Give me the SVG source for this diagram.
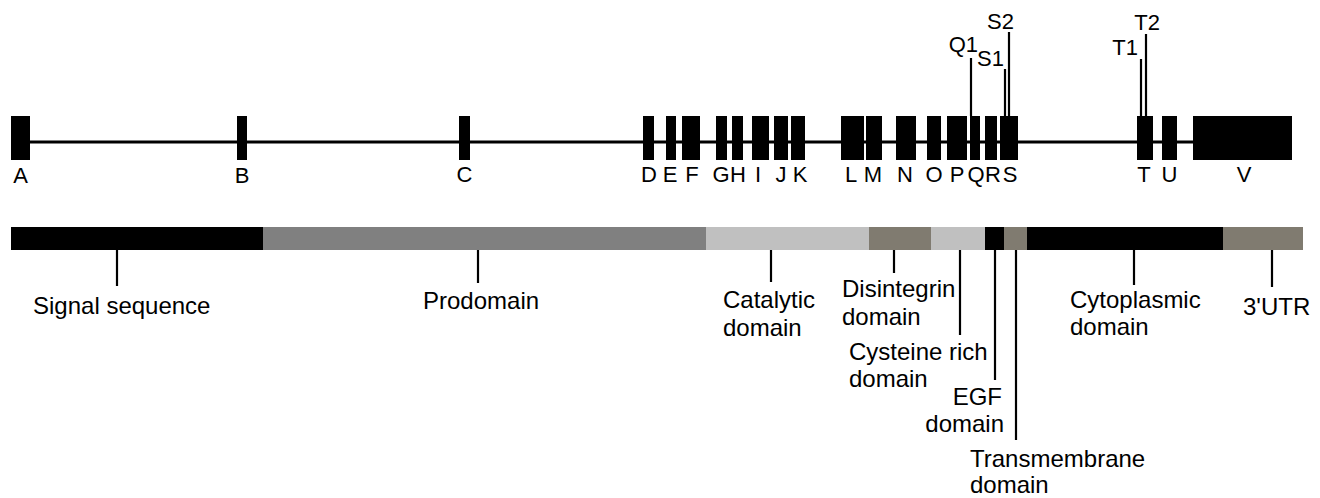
<svg xmlns="http://www.w3.org/2000/svg" width="1320" height="498" viewBox="0 0 1320 498">
  <style>
    text { font-family: "Liberation Sans", Arial, sans-serif; fill: #000; }
    .ex { fill: #000; }
    .exl { font-size: 22px; text-anchor: middle; }
    .iso { font-size: 22px; }
    .dl { font-size: 24px; }
    .lead { stroke: #000; stroke-width: 2.2; fill: none; }
    .intron { stroke: #000; stroke-width: 3.2; }
    .blk { fill: #000; }
    .gry { fill: #808080; }
    .lgt { fill: #c0c0c0; }
    .tau { fill: #807b70; }
  </style>

  <!-- Gene structure: intron backbone -->
  <g id="backbone">
    <line class="intron" x1="11" y1="142" x2="1194" y2="142"/>
  </g>

  <!-- Exons A..V -->
  <g id="exon-A"><rect class="ex" x="11" y="116" width="19" height="44"/><text class="exl" x="20.5" y="183">A</text></g>
  <g id="exon-B"><rect class="ex" x="237" y="116" width="10" height="44"/><text class="exl" x="242" y="183">B</text></g>
  <g id="exon-C"><rect class="ex" x="459" y="116" width="11" height="44"/><text class="exl" x="464.5" y="182">C</text></g>
  <g id="exon-D"><rect class="ex" x="643" y="116" width="11" height="44"/><text class="exl" x="649" y="182">D</text></g>
  <g id="exon-E"><rect class="ex" x="666" y="116" width="10" height="44"/><text class="exl" x="670" y="182">E</text></g>
  <g id="exon-F"><rect class="ex" x="682" y="116" width="18" height="44"/><text class="exl" x="692" y="182">F</text></g>
  <g id="exon-G"><rect class="ex" x="716" y="116" width="11" height="44"/><text class="exl" x="721" y="182">G</text></g>
  <g id="exon-H"><rect class="ex" x="732" y="116" width="11" height="44"/><text class="exl" x="738" y="182">H</text></g>
  <g id="exon-I"><rect class="ex" x="752" y="116" width="17" height="44"/><text class="exl" x="758" y="182">I</text></g>
  <g id="exon-J"><rect class="ex" x="774" y="116" width="14" height="44"/><text class="exl" x="781" y="182">J</text></g>
  <g id="exon-K"><rect class="ex" x="791" y="116" width="14" height="44"/><text class="exl" x="800" y="182">K</text></g>
  <g id="exon-L"><rect class="ex" x="841" y="116" width="23" height="44"/><text class="exl" x="851" y="182">L</text></g>
  <g id="exon-M"><rect class="ex" x="866" y="116" width="16" height="44"/><text class="exl" x="873" y="182">M</text></g>
  <g id="exon-N"><rect class="ex" x="896" y="116" width="20" height="44"/><text class="exl" x="905" y="182">N</text></g>
  <g id="exon-O"><rect class="ex" x="927" y="116" width="14" height="44"/><text class="exl" x="934" y="182">O</text></g>
  <g id="exon-P"><rect class="ex" x="947" y="116" width="20" height="44"/><text class="exl" x="957" y="182">P</text></g>
  <g id="exon-Q"><rect class="ex" x="970" y="116" width="10" height="44"/><text class="exl" x="976" y="182">Q</text></g>
  <g id="exon-R"><rect class="ex" x="985" y="116" width="12" height="44"/><text class="exl" x="993" y="182">R</text></g>
  <g id="exon-S"><rect class="ex" x="1000" y="116" width="18" height="44"/><text class="exl" x="1010" y="182">S</text></g>
  <g id="exon-T"><rect class="ex" x="1137" y="116" width="16" height="44"/><text class="exl" x="1144" y="182">T</text></g>
  <g id="exon-U"><rect class="ex" x="1162" y="116" width="15" height="44"/><text class="exl" x="1169.5" y="182">U</text></g>
  <g id="exon-V"><rect class="ex" x="1193" y="116" width="99" height="44"/><text class="exl" x="1244" y="182">V</text></g>

  <!-- Alternative splice site labels -->
  <g id="site-Q1"><text class="iso" x="978" y="52" text-anchor="end">Q1</text></g>
  <g id="site-S1"><text class="iso" x="1004" y="66" text-anchor="end">S1</text></g>
  <g id="site-S2"><text class="iso" x="1014" y="29" text-anchor="end">S2</text></g>
  <g id="site-T1"><text class="iso" x="1138" y="55" text-anchor="end">T1</text></g>
  <g id="site-T2"><text class="iso" x="1160" y="30" text-anchor="end">T2</text></g>

  <!-- Protein domain bar -->
  <g id="domain-bar">
    <rect class="blk" x="11" y="227" width="252" height="23"/>
    <rect class="gry" x="263" y="227" width="443" height="23"/>
    <rect class="lgt" x="706" y="227" width="163" height="23"/>
    <rect class="tau" x="869" y="227" width="62" height="23"/>
    <rect class="lgt" x="931" y="227" width="54" height="23"/>
    <rect class="blk" x="985" y="227" width="19" height="23"/>
    <rect class="tau" x="1004" y="227" width="23" height="23"/>
    <rect class="blk" x="1027" y="227" width="196" height="23"/>
    <rect class="tau" x="1223" y="227" width="80" height="23"/>
  </g>

  <!-- Domain labels -->
  <g id="label-signal"><text class="dl" x="33" y="314">Signal sequence</text></g>
  <g id="label-prodomain"><text class="dl" x="423" y="309">Prodomain</text></g>
  <g id="label-catalytic"><text class="dl" x="723" y="308">Catalytic</text><text class="dl" x="723" y="336">domain</text></g>
  <g id="label-disintegrin"><text class="dl" x="842" y="297">Disintegrin</text><text class="dl" x="842" y="325">domain</text></g>
  <g id="label-cysteine"><text class="dl" x="849" y="360">Cysteine rich</text><text class="dl" x="849" y="387">domain</text></g>
  <g id="label-egf"><text class="dl" x="1002" y="405" text-anchor="end">EGF</text><text class="dl" x="1004" y="432" text-anchor="end">domain</text></g>
  <g id="label-transmembrane"><text class="dl" x="970" y="467">Transmembrane</text><text class="dl" x="970" y="493">domain</text></g>
  <g id="label-cytoplasmic"><text class="dl" x="1070" y="308">Cytoplasmic</text><text class="dl" x="1070" y="335">domain</text></g>
  <g id="label-utr"><text class="dl" x="1243" y="315">3'UTR</text></g>

  <!-- Leader lines -->
  <g id="connectors">
    <line class="lead" x1="971" y1="58" x2="971" y2="116"/>
    <line class="lead" x1="1005" y1="69" x2="1005" y2="116"/>
    <line class="lead" x1="1009" y1="32" x2="1009" y2="116"/>
    <line class="lead" x1="1141" y1="59" x2="1141" y2="116"/>
    <line class="lead" x1="1146" y1="34" x2="1146" y2="116"/>

    <line class="lead" x1="117" y1="250" x2="117" y2="286"/>
    <line class="lead" x1="478" y1="250" x2="478" y2="283"/>
    <line class="lead" x1="771" y1="250" x2="771" y2="282"/>
    <line class="lead" x1="894" y1="250" x2="894" y2="273"/>
    <line class="lead" x1="960" y1="250" x2="960" y2="335"/>
    <line class="lead" x1="995" y1="250" x2="995" y2="380"/>
    <line class="lead" x1="1016" y1="250" x2="1016" y2="440"/>
    <line class="lead" x1="1134" y1="250" x2="1134" y2="285"/>
    <line class="lead" x1="1272" y1="250" x2="1272" y2="287"/>
  </g>
</svg>
